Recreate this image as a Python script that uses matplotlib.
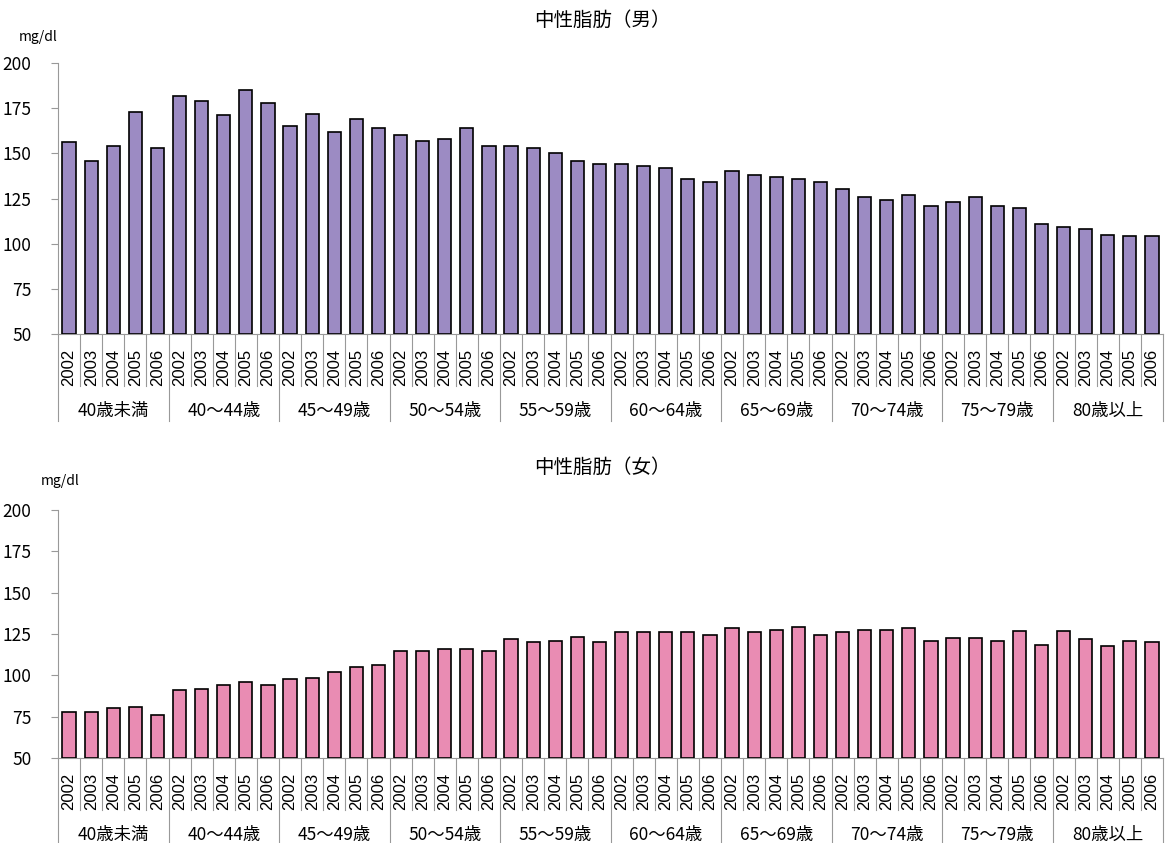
import matplotlib.pyplot as plt
import numpy as np

plt.rcParams['font.family'] = ['Noto Sans CJK JP', 'DejaVu Sans']

# categories
groups = ['40歳未満', '40～44歳', '45～49歳', '50～54歳', '55～59歳',
          '60～64歳', '65～69歳', '70～74歳', '75～79歳', '80歳以上']
years = ['2002', '2003', '2004', '2005', '2006']

# men (mg/dl), 5 years per age group
men = [156, 146, 154, 173, 153,
       182, 179, 171, 185, 178,
       165, 172, 162, 169, 164,
       160, 157, 158, 164, 154,
       154, 153, 150, 146, 144,
       144, 143, 142, 136, 134,
       140, 138, 137, 136, 134,
       130, 126, 124, 127, 121,
       123, 126, 121, 120, 111,
       109, 108, 105, 104, 104]

# women (mg/dl)
women = [78, 78, 80, 81, 76,
         91, 92, 94, 96, 94,
         97.5, 98.5, 102, 105, 106,
         114.5, 114.5, 116, 116, 114.5,
         122, 120, 121, 123, 120,
         126.5, 126.5, 126.5, 126.5, 124.5,
         128.5, 126.5, 127.5, 129, 124.5,
         126.5, 127.5, 127.5, 128.5, 120.5,
         122.5, 122.5, 120.5, 127, 118.5,
         127, 122, 117.5, 121, 120]

W, H = 1165, 843
fig = plt.figure(figsize=(W / 100, H / 100), dpi=100)


def draw(ax_px, values, color, title, title_y, unit_xy):
    left, right, top, bottom = ax_px
    ax = fig.add_axes([left / W, 1 - bottom / H, (right - left) / W, (bottom - top) / H])
    hpx = bottom - top
    n = len(values)
    x = np.arange(n) + 0.5
    ax.bar(x, np.array(values) - 50, bottom=50, width=0.6, color=color,
           edgecolor='black', linewidth=1.2, zorder=3)
    ax.set_xlim(0, n)
    ax.set_ylim(50, 200)
    ax.set_yticks(np.arange(50, 201, 25))
    ax.tick_params(axis='y', labelsize=12.5, length=5, color='#999999', pad=14)
    ax.set_xticks([])
    for s in ['top', 'right']:
        ax.spines[s].set_visible(False)
    for s in ['left', 'bottom']:
        ax.spines[s].set_color('#999999')
        ax.spines[s].set_linewidth(0.8)

    tr = ax.get_xaxis_transform()
    # separators between bars and between groups
    for i in range(n + 1):
        depth = 87 if i % 5 == 0 else 52
        ax.plot([i, i], [0, -depth / hpx], transform=tr, color='#999999',
                lw=0.8, clip_on=False)
    for i in range(n):
        ax.text(i + 0.5, -33 / hpx, years[i % 5], transform=tr, rotation=90,
                ha='center', va='center', fontsize=12,
                family=['Liberation Sans', 'DejaVu Sans'])
    for g, name in enumerate(groups):
        ax.text(g * 5 + 2.5, -77 / hpx, name, transform=tr, ha='center',
                va='center', fontsize=12.5)

    fig.text(602 / W, 1 - title_y / H, title, ha='center', va='center', fontsize=14)
    fig.text(unit_xy[0] / W, 1 - unit_xy[1] / H, 'mg/dl', ha='center',
             va='center', fontsize=10)


draw((58, 1163, 63, 334), men, '#9c8bc3', '中性脂肪（男）', 20, (38, 37))
draw((58, 1163, 510, 758), women, '#e98cb3', '中性脂肪（女）', 467, (60, 481))

fig.savefig('out.png', dpi=100)
